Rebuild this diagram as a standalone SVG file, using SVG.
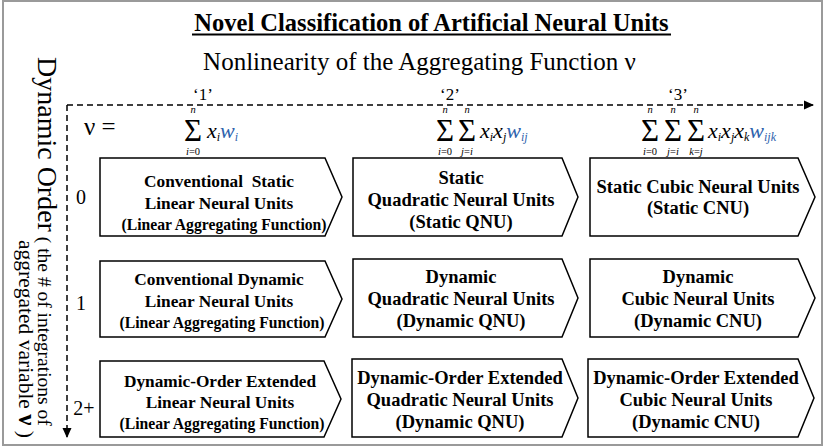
<svg xmlns="http://www.w3.org/2000/svg" width="825" height="448" viewBox="0 0 825 448" font-family="'Liberation Serif', 'Times New Roman', serif">
  <style>
    .frame { fill: #ffffff; stroke: #9a9a9a; stroke-width: 2; }
    .unit { fill: #ffffff; stroke: #000000; stroke-width: 1.5; stroke-linejoin: miter; }
    .axis { fill: none; stroke: #000000; stroke-width: 1.5; stroke-dasharray: 6 4; }
    text { font-family: "Liberation Serif", "Times New Roman", serif; fill: #000000; }
    .title { font-size: 24.5px; font-weight: bold; text-anchor: middle; }
    .sub-title { font-size: 25px; text-anchor: middle; }
    .tick { font-size: 17px; text-anchor: middle; }
    .row { font-size: 20px; text-anchor: middle; }
    .lin { font-size: 17.3px; font-weight: bold; text-anchor: middle; }
    .lin-small { font-size: 15.7px; font-weight: bold; text-anchor: middle; }
    .nl { font-size: 18.5px; font-weight: bold; text-anchor: middle; }
    .sigma { font-size: 31px; text-anchor: middle; }
    .lim { font-size: 10.5px; font-style: italic; text-anchor: middle; }
    .fx { font-size: 22px; font-style: italic; }
    .ix { font-size: 12px; font-style: italic; }
    .wt { fill: #2e62ad; }
  </style>
  <defs>
    <marker id="head" markerWidth="10" markerHeight="10" refX="9" refY="5" orient="auto" markerUnits="userSpaceOnUse">
      <path d="M0,0.5 L10,5 L0,9.5 Z" fill="#000000"/>
    </marker>
  </defs>

  <!-- outer frame -->
  <rect class="frame" x="3" y="1" width="819" height="444"/>

  <!-- headings -->
  <text class="title" x="431.5" y="31">Novel Classification of Artificial Neural Units</text>
  <line x1="192" y1="34.5" x2="671" y2="34.5" stroke="#000000" stroke-width="2"/>
  <text class="sub-title" x="419.5" y="70">Nonlinearity of the Aggregating Function ν</text>

  <!-- vertical axis title -->
  <text transform="translate(38,57) rotate(90)" font-size="28"><tspan>Dynamic Order</tspan><tspan font-size="19.5"> ( the # of integrations of</tspan></text>
  <text transform="translate(19,240) rotate(90)" font-size="21.5"><tspan>aggregated variable </tspan><tspan font-weight="bold" font-size="25">ν</tspan><tspan> )</tspan></text>

  <!-- axes -->
  <g id="connectors">
    <path class="axis" d="M67,105 H813" marker-end="url(#head)"/>
    <path class="axis" d="M67,105 V437" marker-end="url(#head)"/>
  </g>

  <!-- column ticks -->
  <text class="tick" x="203" y="100">‘1’</text>
  <text class="tick" x="450" y="100">‘2’</text>
  <text class="tick" x="678" y="100">‘3’</text>

  <!-- row ticks -->
  <text class="row" x="81" y="204">0</text>
  <text class="row" x="81" y="310">1</text>
  <text class="row" x="84" y="415">2+</text>

  <!-- aggregating functions -->
  <text x="84" y="135" font-size="25">ν =</text>

  <g id="fn-linear">
    <text class="lim" x="193" y="113">n</text>
    <text class="sigma" x="193" y="141">Σ</text>
    <text class="lim" x="193" y="155">i<tspan font-style="normal">=0</tspan></text>
    <text class="fx" x="207" y="138">x<tspan class="ix" dy="3">i</tspan><tspan class="wt" dy="-3">w</tspan><tspan class="ix wt" dy="3">i</tspan></text>
  </g>

  <g id="fn-quadratic">
    <text class="lim" x="445" y="113">n</text>
    <text class="lim" x="467" y="113">n</text>
    <text class="sigma" x="445" y="141">Σ</text>
    <text class="sigma" x="467" y="141">Σ</text>
    <text class="lim" x="445" y="155">i<tspan font-style="normal">=0</tspan></text>
    <text class="lim" x="467" y="155">j<tspan font-style="normal">=</tspan>i</text>
    <text class="fx" x="480" y="138">x<tspan class="ix" dy="3">i</tspan><tspan dy="-3">x</tspan><tspan class="ix" dy="3">j</tspan><tspan class="wt" dy="-3">w</tspan><tspan class="ix wt" dy="3">ij</tspan></text>
  </g>

  <g id="fn-cubic">
    <text class="lim" x="650" y="113">n</text>
    <text class="lim" x="673" y="113">n</text>
    <text class="lim" x="696" y="113">n</text>
    <text class="sigma" x="650" y="141">Σ</text>
    <text class="sigma" x="673" y="141">Σ</text>
    <text class="sigma" x="696" y="141">Σ</text>
    <text class="lim" x="650" y="155">i<tspan font-style="normal">=0</tspan></text>
    <text class="lim" x="673" y="155">j<tspan font-style="normal">=</tspan>i</text>
    <text class="lim" x="696" y="155">k<tspan font-style="normal">=</tspan>j</text>
    <text class="fx" x="708" y="138">x<tspan class="ix" dy="3">i</tspan><tspan dy="-3">x</tspan><tspan class="ix" dy="3">j</tspan><tspan dy="-3">x</tspan><tspan class="ix" dy="3">k</tspan><tspan class="wt" dy="-3">w</tspan><tspan class="ix wt" dy="3">ijk</tspan></text>
  </g>

  <!-- row 0: static units -->
  <g id="static-lnu">
    <path class="unit" d="M100,158 H325 L342,197 L325,236 H100 Z"/>
    <text class="lin" x="219" y="187">Conventional&#160; Static</text>
    <text class="lin" x="219" y="209">Linear Neural Units</text>
    <text class="lin-small" x="224" y="230">(Linear Aggregating Function)</text>
  </g>
  <g id="static-qnu">
    <path class="unit" d="M353,158 H562 L578,197 L562,236 H353 Z"/>
    <text class="nl" x="461" y="184">Static</text>
    <text class="nl" x="461" y="206">Quadratic Neural Units</text>
    <text class="nl" x="461" y="228">(Static QNU)</text>
  </g>
  <g id="static-cnu">
    <path class="unit" d="M590,158 H798 L815,197 L798,236 H590 Z"/>
    <text class="nl" x="698" y="193">Static Cubic Neural Units</text>
    <text class="nl" x="698" y="214">(Static CNU)</text>
  </g>

  <!-- row 1: first-order dynamic units -->
  <g id="dynamic-lnu">
    <path class="unit" d="M100,261 H325 L342,299 L325,337 H100 Z"/>
    <text class="lin" x="219" y="285">Conventional Dynamic</text>
    <text class="lin" x="219" y="307">Linear Neural Units</text>
    <text class="lin-small" x="222" y="328">(Linear Aggregating Function)</text>
  </g>
  <g id="dynamic-qnu">
    <path class="unit" d="M353,259 H562 L578,298 L562,337 H353 Z"/>
    <text class="nl" x="461" y="283">Dynamic</text>
    <text class="nl" x="461" y="305">Quadratic Neural Units</text>
    <text class="nl" x="461" y="327">(Dynamic QNU)</text>
  </g>
  <g id="dynamic-cnu">
    <path class="unit" d="M590,259 H798 L815,298 L798,337 H590 Z"/>
    <text class="nl" x="698" y="283">Dynamic</text>
    <text class="nl" x="698" y="305">Cubic Neural Units</text>
    <text class="nl" x="698" y="327">(Dynamic CNU)</text>
  </g>

  <!-- row 2: higher-order dynamic units -->
  <g id="extended-lnu">
    <path class="unit" d="M100,361 H324 L341,399 L324,437 H100 Z"/>
    <text class="lin" x="220" y="387">Dynamic-Order Extended</text>
    <text class="lin" x="220" y="408">Linear Neural Units</text>
    <text class="lin-small" x="222" y="429">(Linear Aggregating Function)</text>
  </g>
  <g id="extended-qnu">
    <path class="unit" d="M352,359 H562 L578,398 L562,437 H352 Z"/>
    <text class="nl" x="460" y="384">Dynamic-Order Extended</text>
    <text class="nl" x="460" y="406">Quadratic Neural Units</text>
    <text class="nl" x="460" y="428">(Dynamic QNU)</text>
  </g>
  <g id="extended-cnu">
    <path class="unit" d="M588,359 H798 L814,398 L798,437 H588 Z"/>
    <text class="nl" x="696" y="384">Dynamic-Order Extended</text>
    <text class="nl" x="696" y="406">Cubic Neural Units</text>
    <text class="nl" x="696" y="428">(Dynamic CNU)</text>
  </g>
</svg>
